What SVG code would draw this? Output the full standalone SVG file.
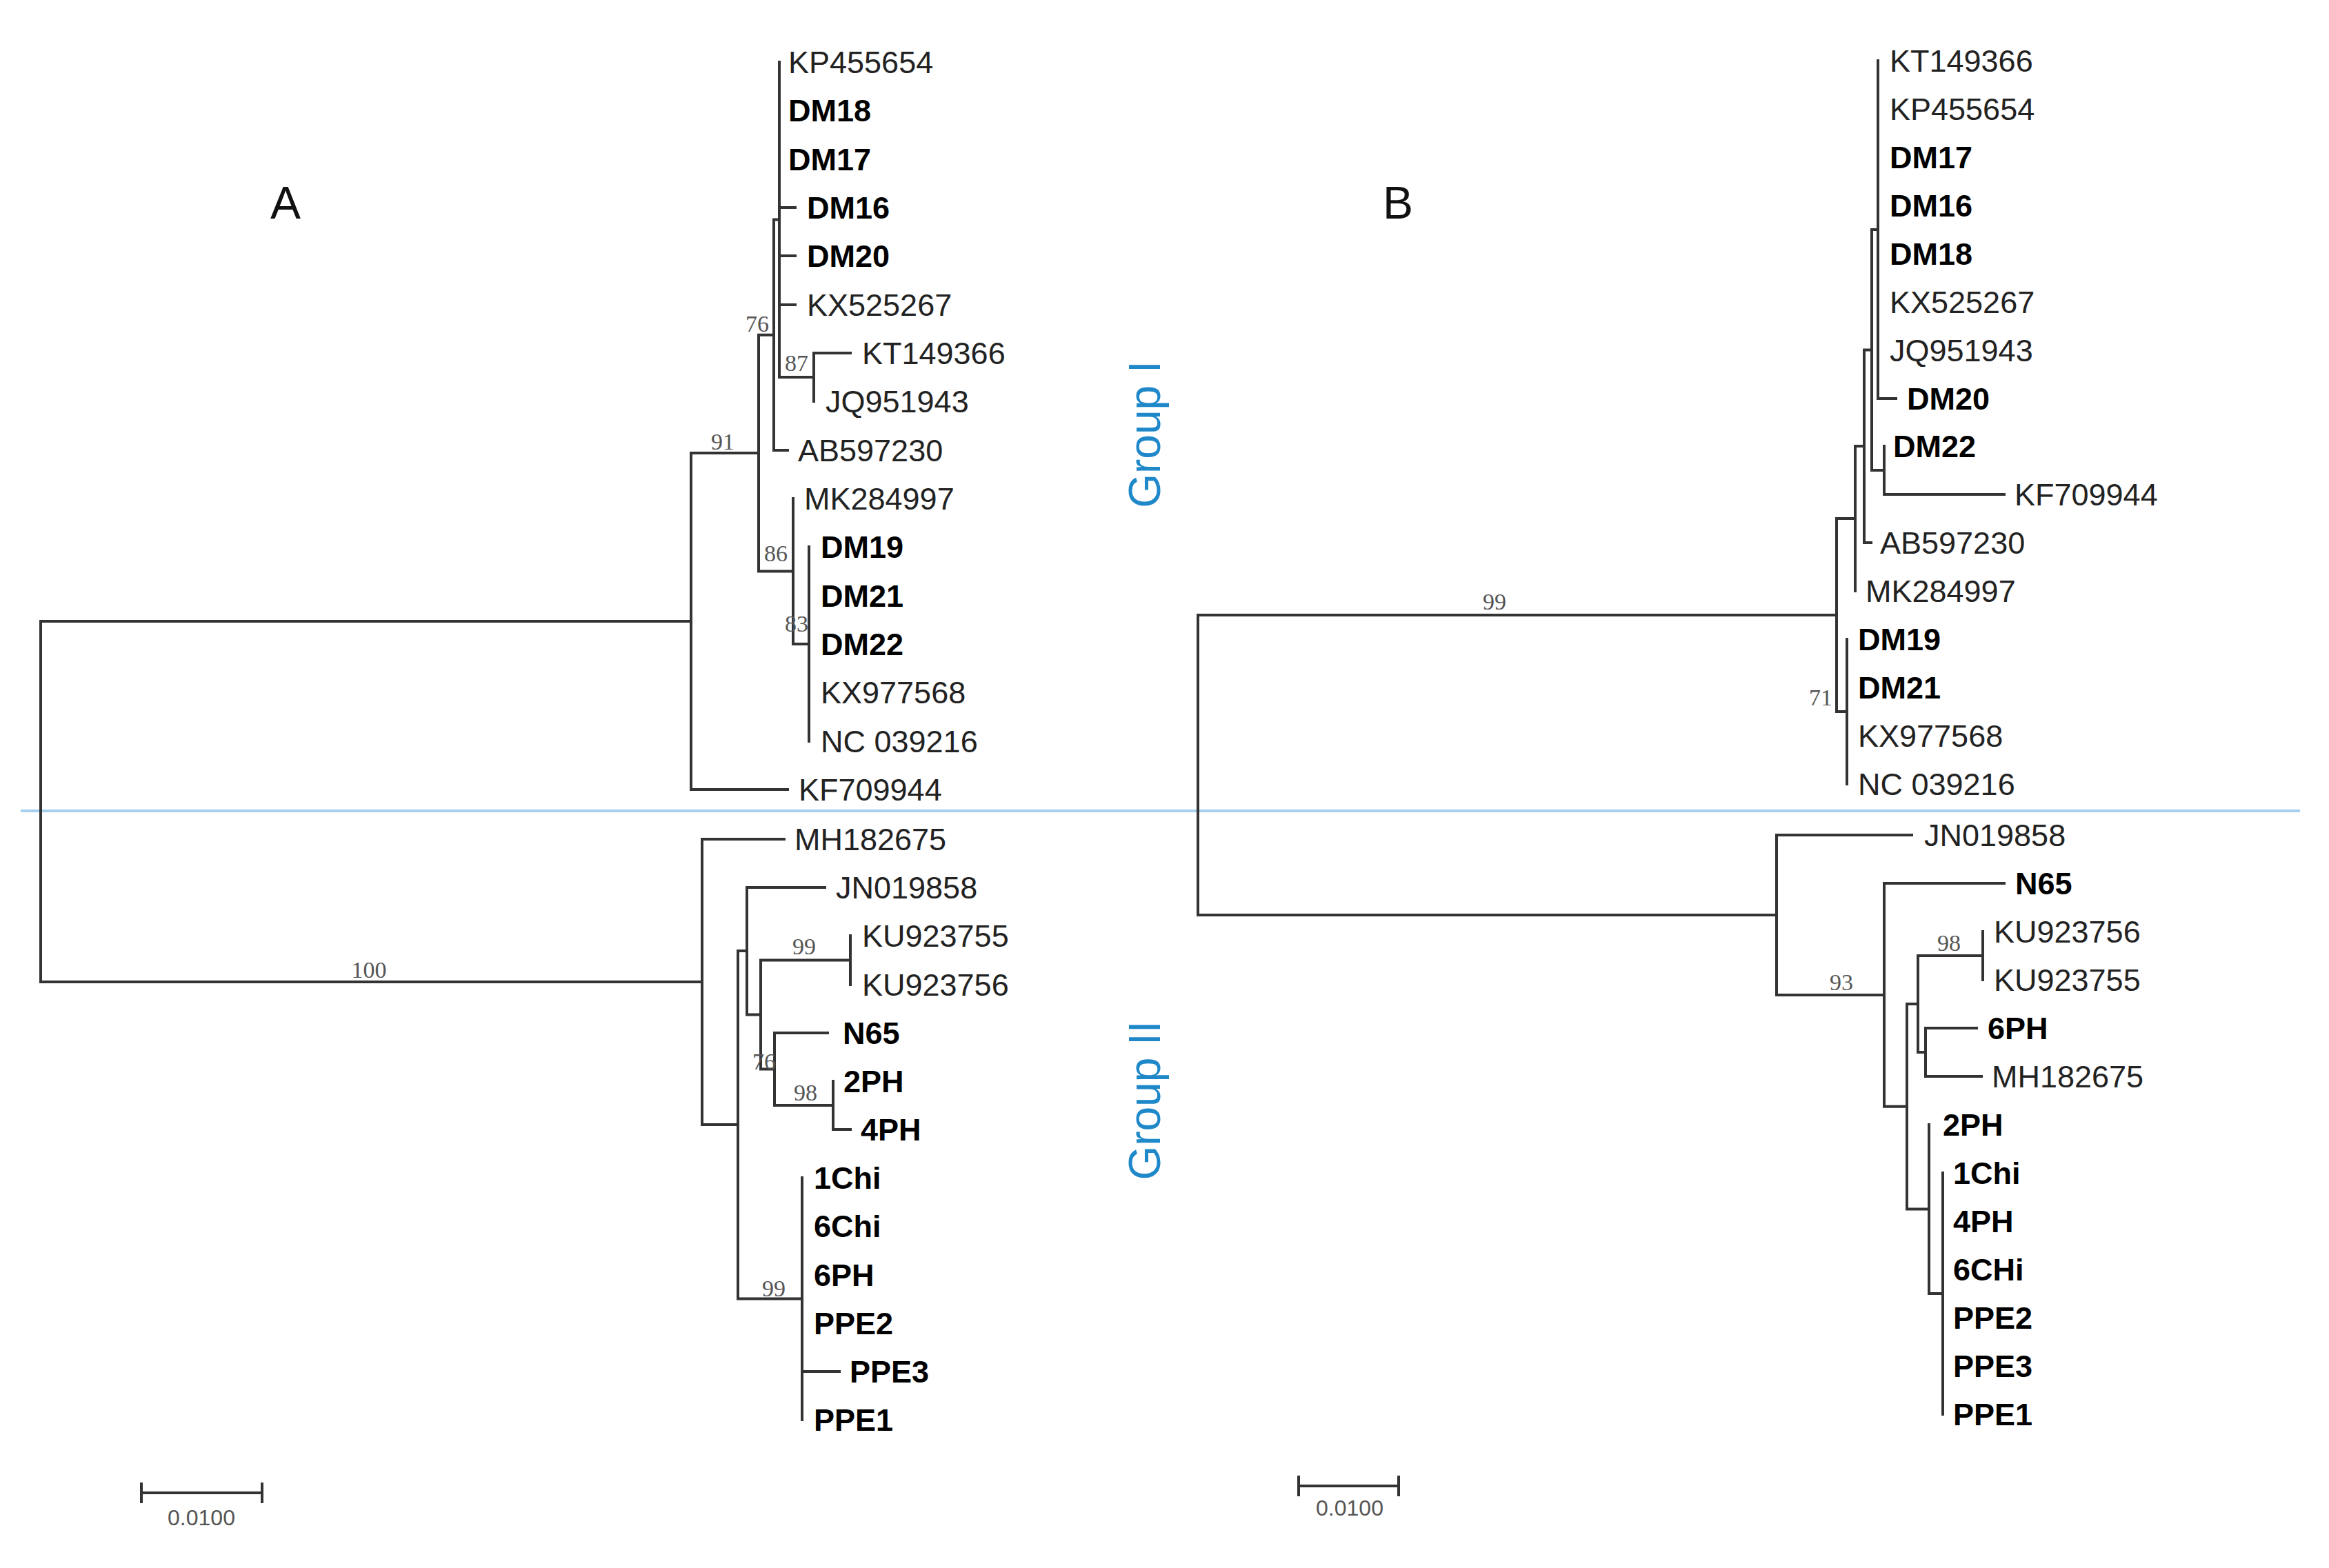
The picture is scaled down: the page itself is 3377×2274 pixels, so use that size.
<svg xmlns="http://www.w3.org/2000/svg" width="3377" height="2274" viewBox="0 0 3377 2274">
<style>
.br{stroke:#333;stroke-width:4;fill:none;stroke-linecap:square}
.lf{font-family:"Liberation Sans",Arial,sans-serif;font-size:45px;fill:#222}
.b{font-weight:bold;fill:#000}
.bs{font-family:"Liberation Serif","Times New Roman",serif;font-size:34px;fill:#555;text-anchor:middle}
.sc{font-family:"Liberation Sans",Arial,sans-serif;font-size:32px;fill:#555;text-anchor:middle}
.pl{font-family:"Liberation Sans",Arial,sans-serif;font-size:66px;fill:#111}
.grp{font-family:"Liberation Sans",Arial,sans-serif;font-size:64px;fill:#1f88c9;text-anchor:middle}
</style>
<rect width="3377" height="2274" fill="#fff"/>
<line x1="30" y1="1176" x2="3335" y2="1176" stroke="#a4cfee" stroke-width="4"/>
<g id="connectors">
<g id="treeA-branches" class="br">
<path d="M1002,901 H59 V1424 H1018"/>
<path d="M1100,657 H1002 V1145 H1142"/>
<path d="M1122,485.7 H1100 V828.5 H1150"/>
<path d="M1130,318.5 H1122 V653 H1142"/>
<path d="M1130,90 V547 M1130,301 H1153 M1130,371 H1153 M1130,442 H1153 M1130,547 H1180"/>
<path d="M1180,512 V582 M1180,512 H1233"/>
<path d="M1150,723 V934 H1173"/>
<path d="M1173,793 V1075"/>
<path d="M1137,1217 H1018 V1631 H1070"/>
<path d="M1083,1379 H1070 V1883.5 H1163"/>
<path d="M1196,1287 H1083 V1471.5 H1103"/>
<path d="M1233,1392.5 H1103 V1550.5 H1123"/>
<path d="M1233,1357 V1428"/>
<path d="M1200,1498 H1123 V1603 H1208"/>
<path d="M1208,1568 V1638 H1233"/>
<path d="M1163,1708 V2059 M1163,1989 H1217"/>
</g>
<g id="treeB-branches" class="br">
<path d="M2663,892 H1737 V1327 H2576"/>
<path d="M2690,752 H2663 V1032 H2678"/>
<path d="M2703,647 H2690 V857"/>
<path d="M2714,507.5 H2703 V787 H2713"/>
<path d="M2723,333 H2714 V682 H2732"/>
<path d="M2723,88 V578 H2749"/>
<path d="M2732,647 V717 H2906"/>
<path d="M2678,927 V1137"/>
<path d="M2772,1211 H2576 V1443 H2732"/>
<path d="M2906,1281 H2732 V1604.75 H2765"/>
<path d="M2781,1456 H2765 V1753.5 H2797"/>
<path d="M2875,1386 H2781 V1526 H2792"/>
<path d="M2875,1351 V1421"/>
<path d="M2866,1491 H2792 V1561 H2873"/>
<path d="M2797,1631 V1876 H2817"/>
<path d="M2817,1701 V2051"/>
</g>
</g>
<g id="supportA">
<text class="bs" x="1098" y="481">76</text>
<text class="bs" x="1155" y="538">87</text>
<text class="bs" x="1048" y="652">91</text>
<text class="bs" x="1125" y="814">86</text>
<text class="bs" x="1155" y="916">83</text>
<text class="bs" x="535" y="1418">100</text>
<text class="bs" x="1166" y="1384">99</text>
<text class="bs" x="1108" y="1551">76</text>
<text class="bs" x="1168" y="1596">98</text>
<text class="bs" x="1122" y="1880">99</text>
</g>
<g id="supportB">
<text class="bs" x="2167" y="884">99</text>
<text class="bs" x="2640" y="1023">71</text>
<text class="bs" x="2670" y="1436">93</text>
<text class="bs" x="2826" y="1379">98</text>
</g>
<g id="treeA-leaves" class="lf">
<g id="A-KP455654"><text x="1143" y="106">KP455654</text></g>
<g id="A-DM18"><text class="b" x="1143" y="176">DM18</text></g>
<g id="A-DM17"><text class="b" x="1143" y="247">DM17</text></g>
<g id="A-DM16"><text class="b" x="1170" y="317">DM16</text></g>
<g id="A-DM20"><text class="b" x="1170" y="387">DM20</text></g>
<g id="A-KX525267"><text x="1170" y="458">KX525267</text></g>
<g id="A-KT149366"><text x="1250" y="528">KT149366</text></g>
<g id="A-JQ951943"><text x="1197" y="598">JQ951943</text></g>
<g id="A-AB597230"><text x="1157" y="669">AB597230</text></g>
<g id="A-MK284997"><text x="1166" y="739">MK284997</text></g>
<g id="A-DM19"><text class="b" x="1190" y="809">DM19</text></g>
<g id="A-DM21"><text class="b" x="1190" y="880">DM21</text></g>
<g id="A-DM22"><text class="b" x="1190" y="950">DM22</text></g>
<g id="A-KX977568"><text x="1190" y="1020">KX977568</text></g>
<g id="A-NC039216"><text x="1190" y="1091">NC 039216</text></g>
<g id="A-KF709944"><text x="1158" y="1161">KF709944</text></g>
<g id="A-MH182675"><text x="1152" y="1233">MH182675</text></g>
<g id="A-JN019858"><text x="1212" y="1303">JN019858</text></g>
<g id="A-KU923755"><text x="1250" y="1373">KU923755</text></g>
<g id="A-KU923756"><text x="1250" y="1444">KU923756</text></g>
<g id="A-N65"><text class="b" x="1222" y="1514">N65</text></g>
<g id="A-2PH"><text class="b" x="1223" y="1584">2PH</text></g>
<g id="A-4PH"><text class="b" x="1248" y="1654">4PH</text></g>
<g id="A-1Chi"><text class="b" x="1180" y="1724">1Chi</text></g>
<g id="A-6Chi"><text class="b" x="1180" y="1794">6Chi</text></g>
<g id="A-6PH"><text class="b" x="1180" y="1865">6PH</text></g>
<g id="A-PPE2"><text class="b" x="1180" y="1935">PPE2</text></g>
<g id="A-PPE3"><text class="b" x="1232" y="2005">PPE3</text></g>
<g id="A-PPE1"><text class="b" x="1180" y="2075">PPE1</text></g>
</g>
<g id="treeB-leaves" class="lf">
<g id="B-KT149366"><text x="2740" y="104">KT149366</text></g>
<g id="B-KP455654"><text x="2740" y="174">KP455654</text></g>
<g id="B-DM17"><text class="b" x="2740" y="244">DM17</text></g>
<g id="B-DM16"><text class="b" x="2740" y="314">DM16</text></g>
<g id="B-DM18"><text class="b" x="2740" y="384">DM18</text></g>
<g id="B-KX525267"><text x="2740" y="454">KX525267</text></g>
<g id="B-JQ951943"><text x="2740" y="524">JQ951943</text></g>
<g id="B-DM20"><text class="b" x="2765" y="594">DM20</text></g>
<g id="B-DM22"><text class="b" x="2745" y="663">DM22</text></g>
<g id="B-KF709944"><text x="2921" y="733">KF709944</text></g>
<g id="B-AB597230"><text x="2726" y="803">AB597230</text></g>
<g id="B-MK284997"><text x="2705" y="873">MK284997</text></g>
<g id="B-DM19"><text class="b" x="2694" y="943">DM19</text></g>
<g id="B-DM21"><text class="b" x="2694" y="1013">DM21</text></g>
<g id="B-KX977568"><text x="2694" y="1083">KX977568</text></g>
<g id="B-NC039216"><text x="2694" y="1153">NC 039216</text></g>
<g id="B-JN019858"><text x="2790" y="1227">JN019858</text></g>
<g id="B-N65"><text class="b" x="2922" y="1297">N65</text></g>
<g id="B-KU923756"><text x="2891" y="1367">KU923756</text></g>
<g id="B-KU923755"><text x="2891" y="1437">KU923755</text></g>
<g id="B-6PH"><text class="b" x="2882" y="1507">6PH</text></g>
<g id="B-MH182675"><text x="2888" y="1577">MH182675</text></g>
<g id="B-2PH"><text class="b" x="2817" y="1647">2PH</text></g>
<g id="B-1Chi"><text class="b" x="2832" y="1717">1Chi</text></g>
<g id="B-4PH"><text class="b" x="2832" y="1787">4PH</text></g>
<g id="B-6CHi"><text class="b" x="2832" y="1857">6CHi</text></g>
<g id="B-PPE2"><text class="b" x="2832" y="1927">PPE2</text></g>
<g id="B-PPE3"><text class="b" x="2832" y="1997">PPE3</text></g>
<g id="B-PPE1"><text class="b" x="2832" y="2067">PPE1</text></g>
</g>
<g id="panel-labels">
<text class="pl" x="392" y="317">A</text>
<text class="pl" x="2005" y="317">B</text>
</g>
<g id="group-labels">
<text class="grp" x="1682" y="630" transform="rotate(-90 1682 630)">Group I</text>
<text class="grp" x="1682" y="1596" transform="rotate(-90 1682 1596)">Group II</text>
</g>
<g id="scalebarA">
<path class="br" d="M205,2165 H380 M205,2152 V2178 M380,2152 V2178"/>
<text class="sc" x="292" y="2212">0.0100</text>
</g>
<g id="scalebarB">
<path class="br" d="M1883,2155 H2028 M1883,2142 V2168 M2028,2142 V2168"/>
<text class="sc" x="1957" y="2198">0.0100</text>
</g>
</svg>
